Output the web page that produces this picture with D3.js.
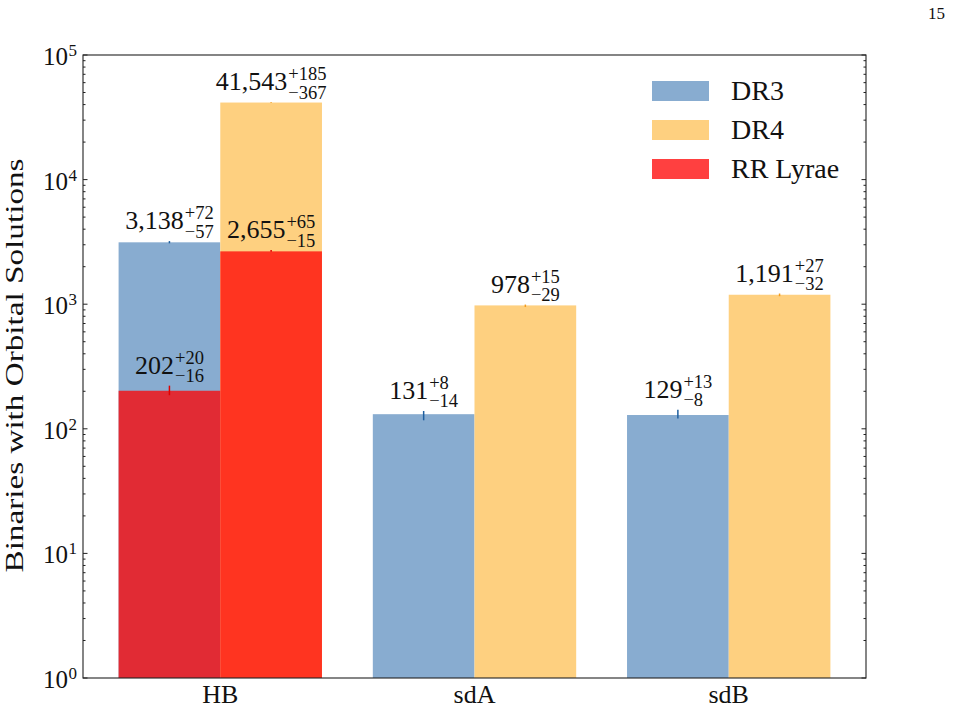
<!DOCTYPE html>
<html>
<head>
<meta charset="utf-8">
<script src="https://cdn.jsdelivr.net/npm/d3@7"></script>
<style>
  body { margin: 0; background: white; }
  text { font-family: 'Liberation Serif', 'DejaVu Serif', serif; fill: #111; }
</style>
</head>
<body>
<script>
// Data
let categories = ['HB', 'sdA', 'sdB'];

let dr3 = [3138, 131, 129];
let dr3Up = [72, 8, 13];
let dr3Lo = [57, 14, 8];

let dr4 = [41543, 978, 1191];
let dr4Up = [185, 15, 27];
let dr4Lo = [367, 29, 32];

// RR Lyrae only exists for the HB group
let rrDr3 = [202];
let rrDr3Up = [20];
let rrDr3Lo = [16];

let rrDr4 = [2655];
let rrDr4Up = [65];
let rrDr4Lo = [15];

let yTicks = [1, 10, 100, 1000, 10000, 100000];
let legendLabels = ['DR3', 'DR4', 'RR Lyrae'];

let
  width = 953,
  height = 710;

let margin = {
  top: 55,
  bottom: 32,
  left: 83,
  right: 87
}

let svg = d3.select('body')
            .append('svg')
            .attr('width', width)
            .attr('height', height)
            .style('background', 'white')

// scales
let xScale = d3.scaleLinear()
              .domain([-0.54, categories.length - 1 + 0.54])
              .range([margin.left, width - margin.right])

let yScale = d3.scaleLog()
              .domain([1, 100000])
              .range([height - margin.bottom, margin.top])

let barW = xScale(0.4) - xScale(0);
let fmt = d3.format(',');

// series: offset of bar centre in category units
let series = [
  { vals: dr3, up: dr3Up, lo: dr3Lo, off: -0.2, fill: '#88acd0', err: '#1f5f9f', opacity: 1 },
  { vals: dr4, up: dr4Up, lo: dr4Lo, off: 0.2, fill: '#fed080', err: '#f39c1e', opacity: 1 },
  { vals: rrDr3, up: rrDr3Up, lo: rrDr3Lo, off: -0.2, fill: 'red', err: '#e00000', opacity: 0.75 },
  { vals: rrDr4, up: rrDr4Up, lo: rrDr4Lo, off: 0.2, fill: 'red', err: '#e00000', opacity: 0.75 }
];

series.forEach(s => {
  let pts = s.vals.map((v, i) => ({ v: v, up: s.up[i], lo: s.lo[i], x: i + s.off }));

  svg.append('g').selectAll('rect')
    .data(pts)
    .enter()
    .append('rect')
    .attr('x', d => xScale(d.x) - barW / 2)
    .attr('y', d => yScale(d.v))
    .attr('width', barW)
    .attr('height', d => yScale(1) - yScale(d.v))
    .attr('fill', s.fill)
    .attr('fill-opacity', s.opacity)

  svg.append('g').selectAll('line')
    .data(pts)
    .enter()
    .append('line')
    .attr('x1', d => xScale(d.x))
    .attr('x2', d => xScale(d.x))
    .attr('y1', d => yScale(d.v - d.lo))
    .attr('y2', d => yScale(d.v + d.up))
    .attr('stroke', s.err)
    .attr('stroke-width', 1.5)

  s.pts = pts;
});

// value labels  N^{+a}_{-b}
series.forEach(s => {
  s.pts.forEach(d => {
    let g = svg.append('g');
    let base = yScale(d.v + d.up) - 3.5 - 8.5;
    let main = g.append('text').attr('y', base).style('font-size', '26px').text(fmt(d.v));
    let sup = g.append('text').attr('y', base - 10).style('font-size', '18.5px').text('+' + d.up);
    let sub = g.append('text').attr('y', base + 8.5).style('font-size', '18.5px').text('\u2212' + d.lo);
    let mw = main.node().getComputedTextLength();
    let sw = Math.max(sup.node().getComputedTextLength(), sub.node().getComputedTextLength());
    let x0 = xScale(d.x) - (mw + sw + 1) / 2;
    main.attr('x', x0);
    sup.attr('x', x0 + mw + 1);
    sub.attr('x', x0 + mw + 1);
  });
});

// frame
let x0 = margin.left, x1 = width - margin.right;
let y0 = margin.top, y1 = height - margin.bottom;

// y ticks (inward, both sides)
let minors = [];
for (let e = 0; e < 5; e++) {
  for (let k = 2; k < 10; k++) minors.push(k * Math.pow(10, e));
}
let tickG = svg.append('g').attr('stroke', '#222').attr('stroke-width', 1);
minors.forEach(v => {
  tickG.append('line').attr('x1', x0).attr('x2', x0 + 2.5).attr('y1', yScale(v)).attr('y2', yScale(v));
  tickG.append('line').attr('x1', x1).attr('x2', x1 - 2.5).attr('y1', yScale(v)).attr('y2', yScale(v));
});
yTicks.forEach(v => {
  tickG.append('line').attr('x1', x0).attr('x2', x0 + 4.5).attr('y1', yScale(v)).attr('y2', yScale(v));
  tickG.append('line').attr('x1', x1).attr('x2', x1 - 4.5).attr('y1', yScale(v)).attr('y2', yScale(v));
});

svg.append('rect')
  .attr('x', x0).attr('y', y0)
  .attr('width', x1 - x0).attr('height', y1 - y0)
  .attr('fill', 'none')
  .attr('stroke', '#222')
  .attr('stroke-width', 1.1)

// y tick labels 10^n
yTicks.forEach(v => {
  let e = Math.round(Math.log10(v));
  let g = svg.append('g');
  let ex = g.append('text').attr('x', 77).attr('y', yScale(v) + 1)
    .attr('text-anchor', 'end').style('font-size', '17px').text(e);
  let ew = ex.node().getComputedTextLength();
  g.append('text').attr('x', 77 - ew - 0.5).attr('y', yScale(v) + 10)
    .attr('text-anchor', 'end').style('font-size', '25px').text('10');
});

// x tick labels
svg.selectAll('.xlab')
  .data(categories)
  .enter()
  .append('text')
  .attr('x', (d, i) => xScale(i))
  .attr('y', 703)
  .attr('text-anchor', 'middle')
  .style('font-size', '26px')
  .text(d => d)

// y axis label
svg.append('text')
  .attr('transform', `translate(23,${(y0 + y1) / 2 - 1}) rotate(-90)`)
  .attr('text-anchor', 'middle')
  .attr('textLength', 414)
  .attr('lengthAdjust', 'spacingAndGlyphs')
  .style('font-size', '25px')
  .text('Binaries with Orbital Solutions')

// legend
let legendColors = ['#88acd0', '#fed080', 'red'];
let legendOpacity = [1, 1, 0.75];
legendLabels.forEach((l, i) => {
  let cy = 91 + i * 39;
  svg.append('rect')
    .attr('x', 652).attr('y', cy - 10)
    .attr('width', 57).attr('height', 20)
    .attr('fill', legendColors[i])
    .attr('fill-opacity', legendOpacity[i])
  svg.append('text')
    .attr('x', 731).attr('y', cy + 9)
    .style('font-size', '28px')
    .text(l)
});

// page number
svg.append('text')
  .attr('x', 945).attr('y', 19)
  .attr('text-anchor', 'end')
  .style('font-size', '17px')
  .text('15')
</script>
</body>
</html>
